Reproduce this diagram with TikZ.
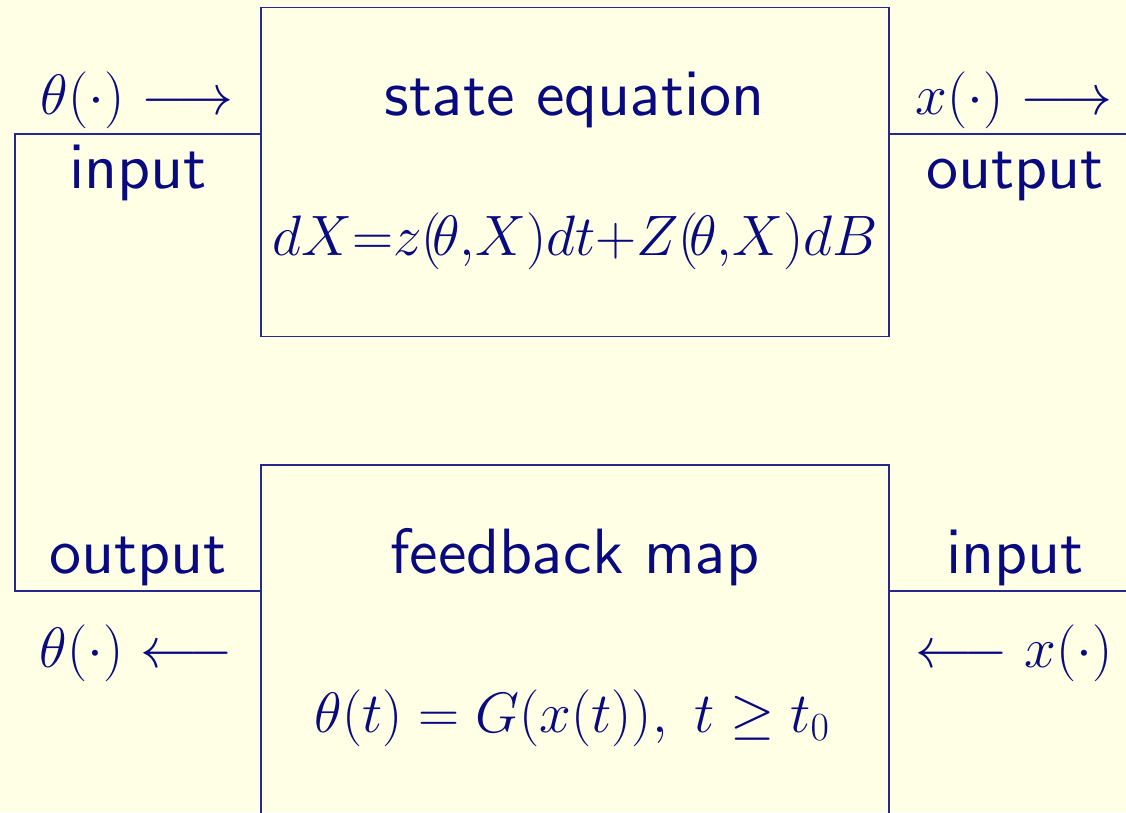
\documentclass[tikz,border=0pt]{standalone}
\usepackage{fix-cm}
\usepackage{amssymb}
\font\sfbig=cmss10 at 64pt
\definecolor{bgyellow}{RGB}{255,255,230}
\definecolor{ink}{RGB}{10,10,128}
\definecolor{linecol}{RGB}{40,40,140}
\tikzset{
  lbl/.style={text=ink, anchor=base, inner sep=0pt, font=\sfbig},
  mth/.style={text=ink, anchor=base, inner sep=0pt, font=\fontsize{57}{68}\selectfont},
  blk/.style={draw=linecol, line width=1.9pt, rectangle, inner sep=0pt},
  wire/.style={draw=linecol, line width=1.9pt}
}
\begin{document}
\begin{tikzpicture}[x=1pt,y=-1pt]
\fill[bgyellow] (0,0) rectangle (1126,812);
\useasboundingbox (0,0) rectangle (1126,812);
\clip (0,0) rectangle (1126,812);
% blocks
\node[blk, minimum width=628pt, minimum height=329pt] (top) at (575,172) {};
\node[blk, minimum width=628pt, minimum height=420pt] (bot) at (575,675) {};
% wires
\coordinate (a) at (15,134);
\coordinate (b) at (15,591);
\coordinate (c) at (1130,134);
\coordinate (d) at (1130,591);
\draw[wire] (top.west |- a) -- (a) -- (b) -- (bot.west |- b);
\draw[wire] (top.east |- c) -- (c);
\draw[wire] (bot.east |- d) -- (d);
% block texts
\node[lbl] (st) at (575,115) {state equation};
\node[mth] (eq1) at (575,255) {$dX{=}z(\!\theta{,}X)dt{+}Z(\!\theta{,}X)dB$};
\node[lbl] (fb) at (575,573) {feedback map};
\node[mth] (eq2) at (572,732) {$\theta(t) = G(x(t)),\ t \geq t_0$};
% port labels
\node[mth] (lt1) at (137,114) {$\theta(\cdot)$ $\longrightarrow$};
\node[lbl] (lt2) at (138,188) {input};
\node[mth] (rt1) at (1014,114) {$x(\cdot)$ $\longrightarrow$};
\node[lbl] (rt2) at (1015,188) {output};
\node[lbl] (lb1) at (138,573) {output};
\node[mth] (lb2) at (136,667) {$\theta(\cdot)$ $\longleftarrow$};
\node[lbl] (rb1) at (1015,573) {input};
\node[mth] (rb2) at (1014,667) {$\longleftarrow$ $x(\cdot)$};
\end{tikzpicture}
\end{document}
